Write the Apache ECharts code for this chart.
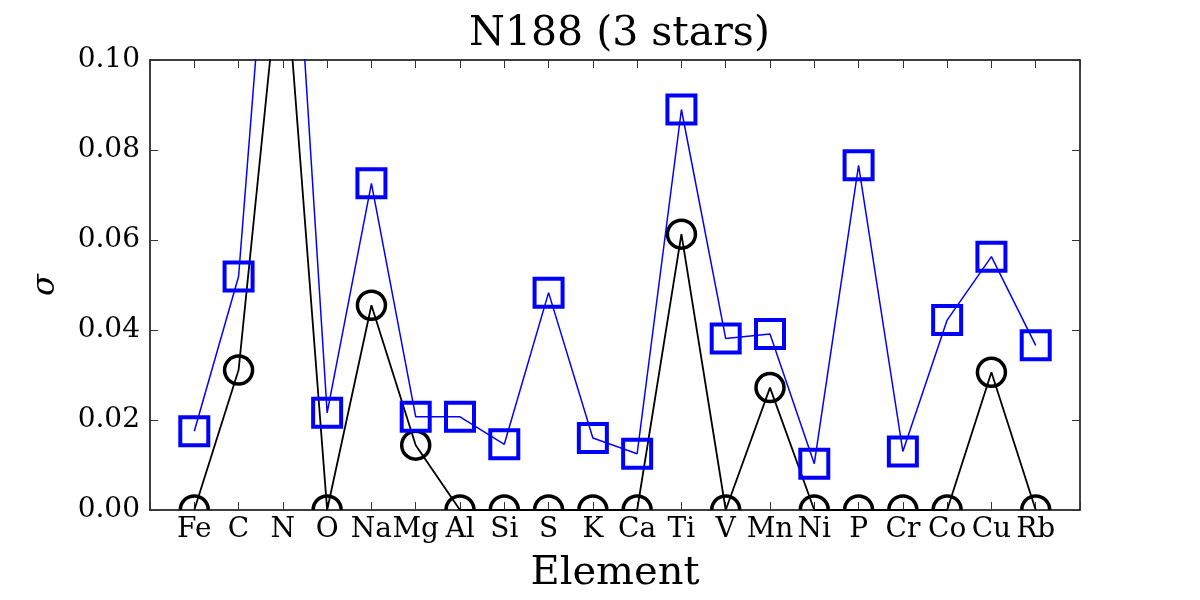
<!DOCTYPE html>
<html>
<head>
<meta charset="utf-8">
<script src="https://cdn.jsdelivr.net/npm/echarts@6/dist/echarts.min.js"></script>
<style>
  html, body { margin: 0; padding: 0; background: #fff; }
  #chart { width: 1200px; height: 600px; }
</style>
</head>
<body>
<div id="chart"></div>
<script>
const elements = ['Fe', 'C', 'N', 'O', 'Na', 'Mg', 'Al', 'Si', 'S', 'K', 'Ca', 'Ti', 'V', 'Mn', 'Ni', 'P', 'Cr', 'Co', 'Cu', 'Rb'];
// black circles
const sigmaBlack = [0, 0.0311, 0.128, 0, 0.0455, 0.0144, 0, 0, 0, 0, 0, 0.0613, 0, 0.0272, 0, 0, 0, 0, 0.0306, 0];
// blue squares
const sigmaBlue = [0.0175, 0.0519, 0.177, 0.0216, 0.0726, 0.0207, 0.0207, 0.0146, 0.0483, 0.0160, 0.0125, 0.0890, 0.0381, 0.0391, 0.0103, 0.0766, 0.0130, 0.0422, 0.0563, 0.0366];
const yTicks = [0, 0.02, 0.04, 0.06, 0.08, 0.10];

const font = 'DejaVu Serif';
const pairs = arr => arr.map((v, i) => [i, v]);

const chart = echarts.init(document.getElementById('chart'));

const frameAxis = { show: true, onZero: false, lineStyle: { color: '#000', width: 1.5 } };
const tickIn = { show: true, inside: true, length: 8, lineStyle: { color: '#333', width: 1 } };

function circleItem(params, api) {
    const p = api.coord([api.value(0), api.value(1)]);
    return { type: 'circle', shape: { cx: p[0], cy: p[1], r: 14 },
             style: { fill: 'none', stroke: '#000', lineWidth: 3.5 } };
}
function squareItem(params, api) {
    const p = api.coord([api.value(0), api.value(1)]);
    return { type: 'rect', shape: { x: p[0] - 14, y: p[1] - 14, width: 28, height: 28 },
             style: { fill: 'none', stroke: '#0000ff', lineWidth: 4 } };
}

chart.setOption({
    animation: false,
    backgroundColor: '#fff',
    title: {
        text: 'N188 (3 stars)',
        left: 464,
        top: 9,
        textStyle: { fontFamily: font, fontSize: 41, fontWeight: 'normal', color: '#000' }
    },
    grid: { left: 150, right: 120, top: 60, bottom: 90 },
    xAxis: [{
        type: 'value', min: -1, max: 20, interval: 1,
        name: 'Element', nameLocation: 'middle', nameGap: 44,
        nameTextStyle: { fontFamily: font, fontSize: 40, color: '#000' },
        axisLine: frameAxis, axisTick: tickIn, splitLine: { show: false },
        axisLabel: {
            fontFamily: font, fontSize: 28, color: '#000', margin: 6,
            formatter: v => elements[v] || ''
        }
    }, {
        type: 'value', position: 'top', min: -1, max: 20, interval: 1,
        axisLine: frameAxis, axisTick: tickIn, splitLine: { show: false },
        axisLabel: { show: false }
    }],
    yAxis: [{
        type: 'value', min: 0, max: 0.1, interval: 0.02,
        name: 'σ', nameLocation: 'middle', nameGap: 88, nameRotate: 90,
        nameTextStyle: { fontFamily: font, fontSize: 32, fontStyle: 'italic', color: '#000' },
        axisLine: frameAxis, axisTick: tickIn, splitLine: { show: false },
        axisLabel: {
            fontFamily: font, fontSize: 28, color: '#000', margin: 10,
            formatter: v => yTicks.some(t => Math.abs(t - v) < 1e-9) ? v.toFixed(2) : ''
        }
    }, {
        type: 'value', position: 'right', min: 0, max: 0.1, interval: 0.02,
        axisLine: frameAxis, axisTick: tickIn, splitLine: { show: false },
        axisLabel: { show: false }
    }],
    series: [{
        type: 'line', data: pairs(sigmaBlack), symbol: 'none', clip: true, z: 2,
        lineStyle: { color: '#000', width: 1.8 }
    }, {
        type: 'custom', data: pairs(sigmaBlack), renderItem: circleItem, clip: true, z: 3
    }, {
        type: 'line', data: pairs(sigmaBlue), symbol: 'none', clip: true, z: 4,
        lineStyle: { color: '#0000ff', width: 1.5 }
    }, {
        type: 'custom', data: pairs(sigmaBlue), renderItem: squareItem, clip: true, z: 5
    }]
});
</script>
</body>
</html>
